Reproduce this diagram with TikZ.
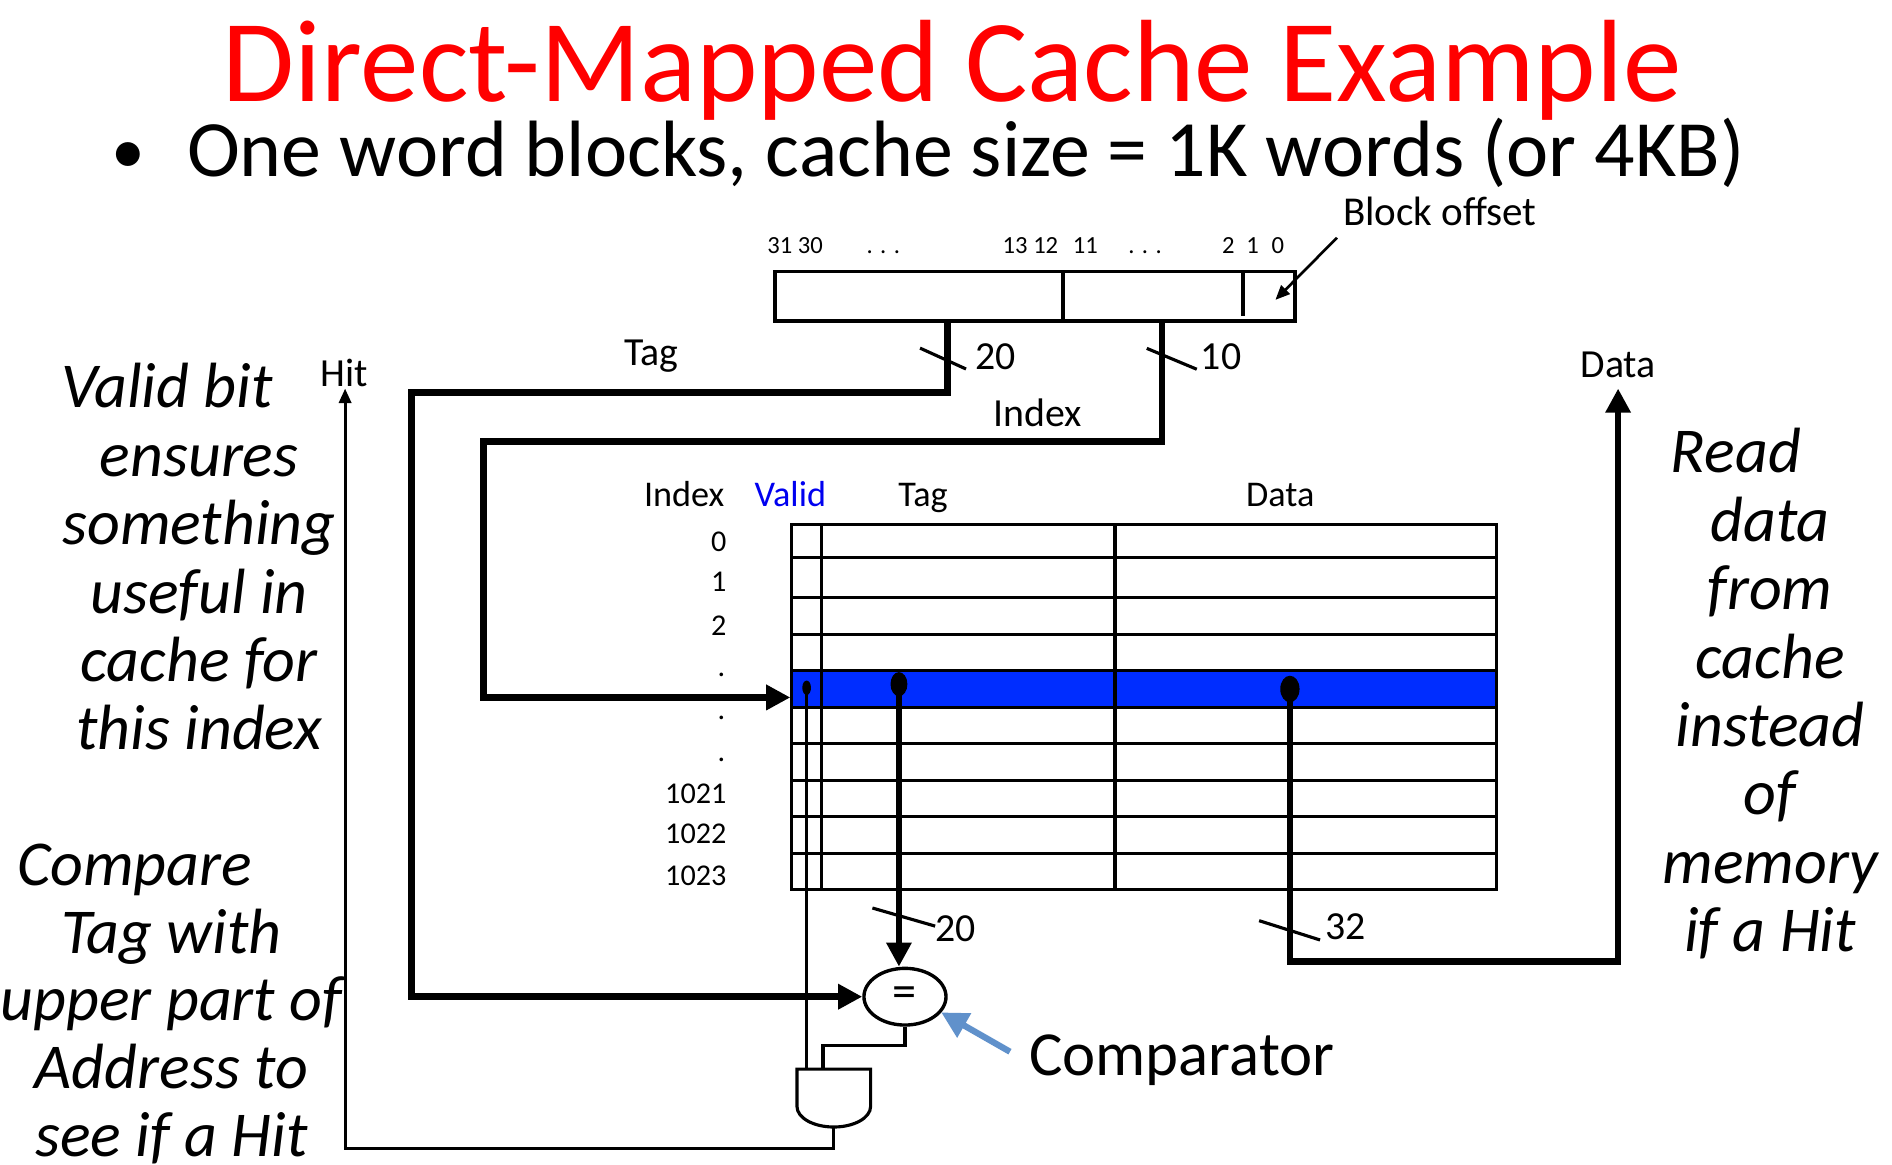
\documentclass[tikz,border=0pt]{standalone}
\usepackage{fontspec}
\setmainfont{Carlito}
\usetikzlibrary{arrows.meta,shapes.geometric}
\definecolor{titlered}{RGB}{255,0,0}
\definecolor{hitrow}{RGB}{0,45,255}
\definecolor{validblue}{RGB}{0,0,240}
\definecolor{pointerblue}{RGB}{96,145,203}
\begin{document}
\begin{tikzpicture}[x=0.5pt,y=-0.5pt,
  txt/.style={inner sep=0pt,outer sep=0pt},
  bus/.style={line width=2.8pt},
  wire/.style={line width=1.3pt},
  cell/.style={line width=1.3pt},
  tick/.style={line width=1.3pt},
  bushead/.style={-{Triangle[length=10pt,width=10pt]}},
  wirehead/.style={-{Triangle[length=6pt,width=5pt]}},
  wirelbl/.style={txt,anchor=base,font=\fontsize{16.5}{20}\selectfont},
  colhead/.style={txt,anchor=base,font=\fontsize{15}{18}\selectfont},
  rowlbl/.style={txt,anchor=base east,font=\fontsize{12.5}{15}\selectfont},
  bitlbl/.style={txt,anchor=base,font=\fontsize{10.2}{12}\selectfont},
  note/.style={txt,anchor=base,font=\fontsize{26.5}{30}\selectfont\itshape},
]
\useasboundingbox (0,0) rectangle (1568,965);

% heading
\node[txt,anchor=base,text=titlered,font=\fontsize{48.5}{50}\selectfont] (title) at (789,84.3) {Direct-Mapped Cache Example};
\node[txt,anchor=base,font=\fontsize{28}{30}\selectfont] (bullet) at (106,144) {•};
\node[txt,anchor=base west,font=\fontsize{33.1}{36}\selectfont] (sub) at (155,146.4) {One word blocks, cache size = 1K words (or 4KB)};

% address register
\node[draw,line width=1.6pt,inner sep=0pt,minimum width=215.5pt,minimum height=20.5pt] (addr) at (857.5,245.5) {};
\coordinate (div1t) at (881,225); \coordinate (div1b) at (881,266);
\coordinate (div2t) at (1030,225); \coordinate (div2b) at (1030,262);
\draw[line width=1.4pt] (div1t) -- (div1b);
\draw[line width=1.4pt] (div2t) -- (div2b);
\node[bitlbl] (b3130) at (659,210) {31 30};
\node[bitlbl] (bd1) at (732,210) {. . .};
\node[bitlbl] (b1312) at (854,210) {13 12};
\node[bitlbl] (b11) at (899.5,210) {11};
\node[bitlbl] (bd2) at (949,210) {. . .};
\node[bitlbl] (b2) at (1018,210) {2};
\node[bitlbl] (b1) at (1038,210) {1};
\node[bitlbl] (b0) at (1059,210) {0};
\node[txt,anchor=base west,font=\fontsize{17}{20}\selectfont] (boff) at (1113,186.5) {Block offset};
\coordinate (boffptr) at (1108,197);
\coordinate (bofftip) at (1057,248.5);
\draw[line width=1.1pt,-{Triangle[length=6pt,width=5pt]}] (boffptr) -- (bofftip);

% comparator
\node[draw,ellipse,line width=1.4pt,inner sep=0pt,minimum width=34pt,minimum height=23.5pt,
      font=\fontsize{20}{22}\selectfont] (cmp) at (750,826) {=};

% cache array
\coordinate (tnw) at (656,434.5);
\coordinate (tse) at (1240,737);
\fill[hitrow] (656,556) rectangle (1240,586);
\draw[cell] (tnw) rectangle (tse);
\foreach \y in {462,495,526,556,586,616,646.5,677,707}
  \draw[cell] (656,\y) -- (1240,\y);
\draw[cell] (681,434.5) -- (681,737);
\draw[cell] (924,434.5) -- (924,737);

\node[colhead] (hidx) at (567,420) {Index};
\node[colhead,text=validblue] (hval) at (655,420) {Valid};
\node[colhead] (htag) at (765,420) {Tag};
\node[colhead] (hdat) at (1061,420) {Data};

\node[rowlbl] (r0) at (602,457) {0};
\node[rowlbl] (r1) at (602,490) {1};
\node[rowlbl] (r2) at (602,526.3) {2};
\node[rowlbl] (rd1) at (601,561) {.};
\node[rowlbl] (rd2) at (601,596) {.};
\node[rowlbl] (rd3) at (601,631) {.};
\node[rowlbl] (r1021) at (602,665.8) {1021};
\node[rowlbl] (r1022) at (602,698.8) {1022};
\node[rowlbl] (r1023) at (602,733.5) {1023};

% taps on the selected line
\coordinate (vdot) at (668.5,570);
\coordinate (tdot) at (745,567);
\coordinate (ddot) at (1069,571);
\fill (vdot) ellipse [x radius=1.8pt, y radius=3pt];
\fill (tdot) ellipse [x radius=3.5pt, y radius=5pt];
\fill (ddot) ellipse [x radius=4pt, y radius=5.5pt];

% address fields to the array and comparator
\coordinate (tagtap) at (785,266);
\coordinate (idxtap) at (963,266);
\coordinate (rowin) at (655,578);
\draw[bus,bushead] (tagtap) |- (341,325) |- (cmp.west);
\draw[bus,bushead] (idxtap) |- (401,366) |- (rowin);
\draw[tick] (762.5,288.5) -- (800.6,305.8);
\draw[tick] (950.4,288.7) -- (991.8,306);
\node[wirelbl] (tagl) at (540,302.5) {Tag};
\node[wirelbl] (n20a) at (825,306.6) {20};
\node[wirelbl] (n10) at (1012,306.6) {10};
\node[wirelbl] (idxl) at (860,353.6) {Index};

% stored tag to comparator
\draw[bus,bushead] (tdot) -- (tdot |- cmp.north);
\draw[tick] (723,752.5) -- (775,767.5);
\node[wirelbl] (n20b) at (792,780.4) {20};

% data out
\coordinate (dataout) at (1341,322);
\draw[bus,bushead] (ddot) |- (1341,797) -- (dataout);
\draw[tick] (1043.5,763) -- (1094,779);
\node[wirelbl] (n32) at (1115,779) {32};
\node[wirelbl] (datal) at (1341,313) {Data};

% valid bit AND comparator result
\draw[wire] (660.5,886) -- (721.5,886) -- (721.5,917)
  arc[start angle=0,end angle=-180,x radius=15.25pt,y radius=8.5pt] -- cycle;
\coordinate (gin1) at (668.5,886);
\coordinate (gin2) at (682,886);
\coordinate (gout) at (691,934);
\draw[wire] (vdot) -- (gin1);
\draw[wire] (cmp.south) |- (682,866.6) -- (gin2);
\coordinate (hittip) at (286,322);
\draw[wire,wirehead] (gout) -- (691,951.5) -| (hittip);
\node[wirelbl] (hitl) at (285,320.5) {Hit};

% comparator callout
\node[txt,anchor=base west,font=\fontsize{26}{30}\selectfont] (cmplbl) at (853,891) {Comparator};
\coordinate (cmpptr) at (837,871.6);
\coordinate (cmptip) at (780,839);
\draw[line width=2.6pt,pointerblue,-{Triangle[length=11pt,width=11pt]}] (cmpptr) -- (cmptip);

% side notes
\foreach \ln [count=\k from 0] in {{Valid bit\rule{1em}{0pt}},ensures,something,{useful in},{cache for},{this index}}
  \node[note] (vnote\k) at (165,338+56.7*\k) {\ln};
\foreach \ln [count=\k from 0] in {{Compare\rule{1.15em}{0pt}},{Tag with},{upper part of},{Address to},{see if a Hit}}
  \node[note] (cnote\k) at (142,733.5+56.3*\k) {\ln};
\foreach \ln [count=\k from 0] in {{Read\rule{1.07em}{0pt}},data,from,cache,instead,of,memory,{if a Hit}}
  \node[note] (rnote\k) at (1467,391.8+56.7*\k) {\ln};
\end{tikzpicture}
\end{document}
